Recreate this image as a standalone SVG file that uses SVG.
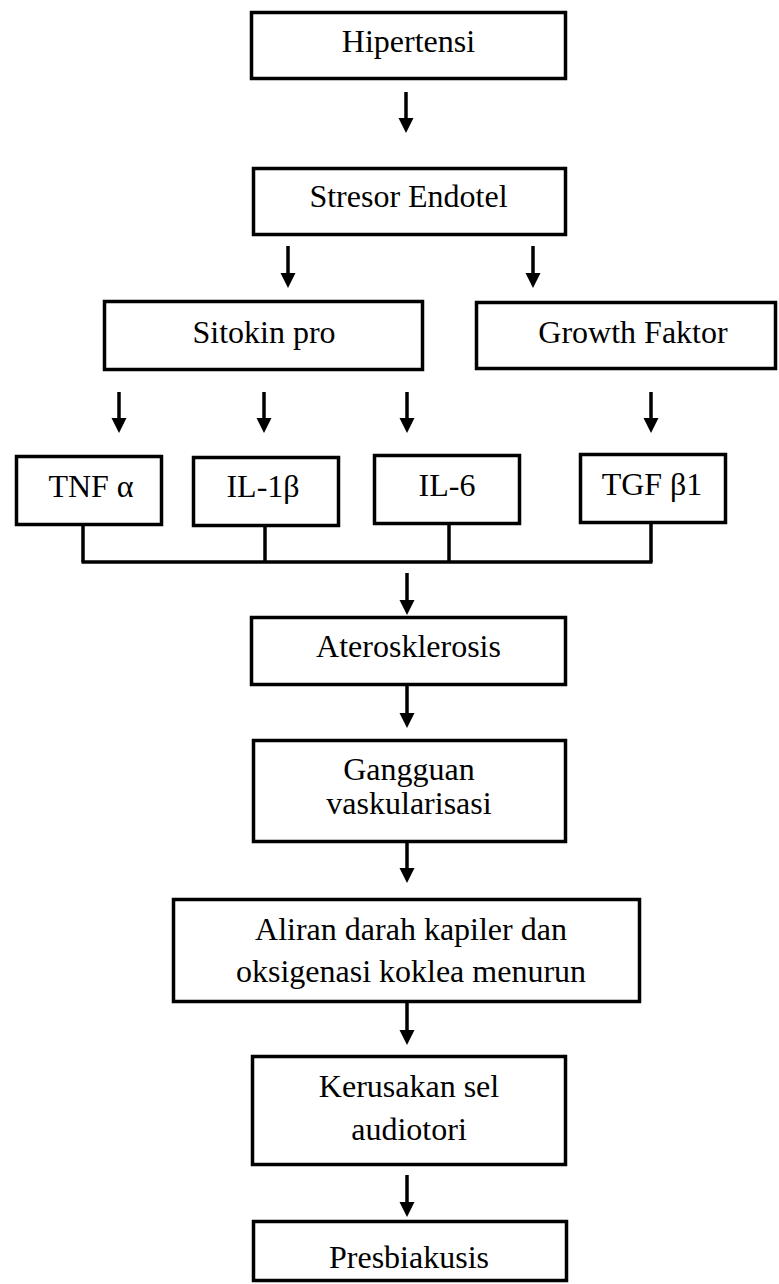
<svg xmlns="http://www.w3.org/2000/svg" width="779" height="1284" viewBox="0 0 779 1284">
<style>
.box{fill:#fff;stroke:#000;stroke-width:3.5}
.t{font-family:"Liberation Serif","Times New Roman",serif;font-size:32px;fill:#000;text-anchor:middle}
.c{stroke:#000;stroke-width:3.5;fill:none}
.a{stroke:#000;stroke-width:3.5;fill:none;marker-end:url(#ah)}
</style>
<defs>
<marker id="ah" markerUnits="userSpaceOnUse" markerWidth="16" markerHeight="16" refX="0" refY="8" orient="auto">
<path d="M0,0.5 L15,8 L0,15.5 z" fill="#000"/>
</marker>
</defs>
<rect width="779" height="1284" fill="#fff"/>
<g id="connectors">
<line class="a" x1="406" y1="92" x2="406" y2="118"/>
<line class="a" x1="288" y1="246" x2="288" y2="273"/>
<line class="a" x1="533" y1="246" x2="533" y2="273"/>
<line class="a" x1="119" y1="392" x2="119" y2="418"/>
<line class="a" x1="264" y1="392" x2="264" y2="418"/>
<line class="a" x1="407" y1="392" x2="407" y2="418"/>
<line class="a" x1="651" y1="392" x2="651" y2="418"/>
<line class="c" x1="83" y1="526" x2="83" y2="562"/>
<line class="c" x1="265" y1="527" x2="265" y2="562"/>
<line class="c" x1="449" y1="525" x2="449" y2="562"/>
<line class="c" x1="651" y1="524" x2="651" y2="562"/>
<line class="c" x1="81.5" y1="562" x2="652.5" y2="562"/>
<line class="a" x1="407" y1="573" x2="407" y2="600"/>
<line class="a" x1="407" y1="686" x2="407" y2="713"/>
<line class="a" x1="407" y1="843" x2="407" y2="868"/>
<line class="a" x1="407" y1="1003" x2="407" y2="1030"/>
<line class="a" x1="407" y1="1175" x2="407" y2="1202"/>
</g>
<g id="hipertensi"><rect class="box" x="251.5" y="12.5" width="314" height="66"/><text class="t" x="408.5" y="52">Hipertensi</text></g>
<g id="stresor"><rect class="box" x="253.5" y="168.5" width="312" height="66"/><text class="t" x="408.5" y="207">Stresor Endotel</text></g>
<g id="sitokin"><rect class="box" x="104.5" y="301.5" width="318" height="68"/><text class="t" x="264" y="343">Sitokin pro</text></g>
<g id="growth"><rect class="box" x="476.5" y="302.5" width="299" height="66"/><text class="t" x="633" y="343">Growth Faktor</text></g>
<g id="tnf"><rect class="box" x="16.5" y="456.5" width="145" height="68"/><text class="t" x="91" y="497">TNF α</text></g>
<g id="il1b"><rect class="box" x="193.5" y="457.5" width="145" height="68"/><text class="t" x="263" y="497">IL-1β</text></g>
<g id="il6"><rect class="box" x="374.5" y="455.5" width="145" height="68"/><text class="t" x="447" y="496">IL-6</text></g>
<g id="tgf"><rect class="box" x="580.5" y="454.5" width="145" height="68"/><text class="t" x="652" y="495">TGF β1</text></g>
<g id="aterosklerosis"><rect class="box" x="251.5" y="617.5" width="314" height="67"/><text class="t" x="408.5" y="657">Aterosklerosis</text></g>
<g id="gangguan"><rect class="box" x="253.5" y="740.5" width="312" height="101"/><text class="t" x="409" y="780">Gangguan</text><text class="t" x="409" y="814">vaskularisasi</text></g>
<g id="aliran"><rect class="box" x="173.5" y="899.5" width="466" height="102"/><text class="t" x="411" y="940">Aliran darah kapiler dan</text><text class="t" x="411" y="982">oksigenasi koklea menurun</text></g>
<g id="kerusakan"><rect class="box" x="252.5" y="1056.5" width="313" height="108"/><text class="t" x="409" y="1097">Kerusakan sel</text><text class="t" x="409" y="1140">audiotori</text></g>
<g id="presbiakusis"><rect class="box" x="253.5" y="1221.5" width="313" height="59"/><text class="t" x="409" y="1268">Presbiakusis</text></g>
</svg>
